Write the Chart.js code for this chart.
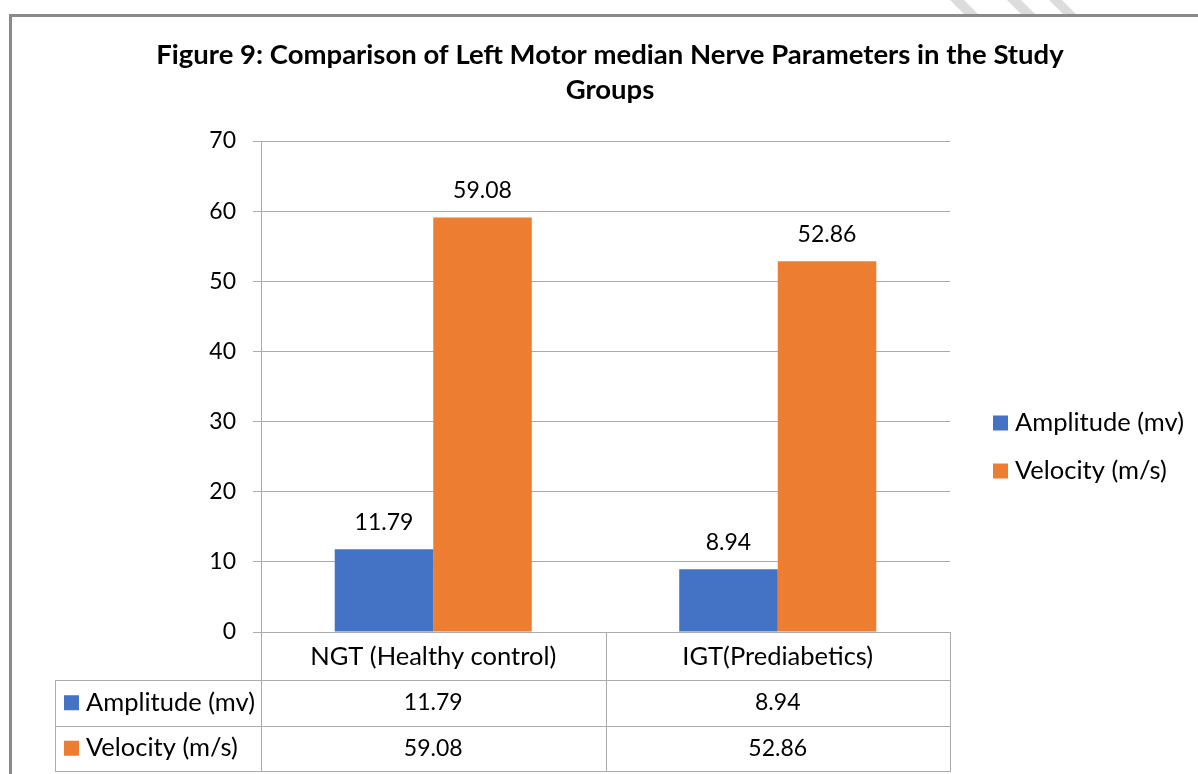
<!DOCTYPE html>
<html>
<head>
<meta charset="utf-8">
<script src="https://cdn.jsdelivr.net/npm/chart.js@4.4.1/dist/chart.umd.min.js"></script>
<style>
  html, body { margin: 0; padding: 0; background: #ffffff; }
  #wrap { width: 1198px; height: 774px; position: relative; }
</style>
</head>
<body>
<div id="wrap"><canvas id="chart" width="1198" height="774"></canvas></div>
<script>
// Study groups and measured parameters
const categories = ['NGT (Healthy control)', 'IGT(Prediabetics)'];
const seriesNames = ['Amplitude (mv)', 'Velocity (m/s)'];
const amplitude = [11.79, 8.94];
const velocity = [59.08, 52.86];
const titleLines = ['Figure 9: Comparison of Left Motor median Nerve Parameters in the Study', 'Groups'];
const yMin = 0, yMax = 70, yStep = 10;

const BLUE = '#4472C4';
const ORANGE = '#ED7D31';
const GRID = '#ababab';
const TEXT = '#000000';
const FONT = 'Lato, "Open Sans", sans-serif';
const TEXT_FONT = '25.5px ' + FONT;   // words
const NUM_FONT = '23px ' + FONT;      // numbers

// Frame, title, value labels, legend and the data table under the axis
const decorations = {
  id: 'decorations',
  afterDraw(chart) {
    const ctx = chart.ctx;
    const area = chart.chartArea;
    const x = chart.scales.x;
    ctx.save();

    // faint diagonal strokes above the frame
    ctx.fillStyle = '#dcdcdc';
    [[950, 964], [1007, 1021], [1049, 1062]].forEach(([a, b]) => {
      ctx.beginPath();
      ctx.moveTo(a, 0); ctx.lineTo(b, 0); ctx.lineTo(b + 14, 14); ctx.lineTo(a + 14, 14);
      ctx.closePath(); ctx.fill();
    });

    // outer frame
    ctx.strokeStyle = '#8a8a8a';
    ctx.lineWidth = 3;
    ctx.beginPath();
    ctx.moveTo(10.5, 780); ctx.lineTo(10.5, 15.5); ctx.lineTo(1200, 15.5);
    ctx.stroke();

    // title
    ctx.fillStyle = TEXT;
    ctx.textAlign = 'center';
    ctx.textBaseline = 'middle';
    ctx.font = 'bold 27.5px ' + FONT;
    ctx.fillText(titleLines[0], 610, 55);
    ctx.fillText(titleLines[1], 610, 90);

    // value labels above bars
    ctx.font = NUM_FONT;
    chart.data.datasets.forEach((ds, di) => {
      chart.getDatasetMeta(di).data.forEach((bar, i) => {
        ctx.fillText(ds.data[i].toFixed(2), bar.x, bar.y - 27);
      });
    });

    // legend on the right
    ctx.font = TEXT_FONT;
    ctx.textAlign = 'left';
    chart.data.datasets.forEach((ds, di) => {
      const cy = 423 + di * 48;
      ctx.fillStyle = ds.backgroundColor;
      ctx.fillRect(993, cy - 7.5, 15, 15);
      ctx.fillStyle = TEXT;
      ctx.fillText(ds.label, 1015, cy);
    });

    // data table
    const left = area.left, right = area.right, base = area.bottom;
    const tableLeft = 55, rowH = 45.5, headH = 48;
    const bounds = [left];
    for (let i = 0; i < categories.length - 1; i++) {
      bounds.push((x.getPixelForValue(i) + x.getPixelForValue(i + 1)) / 2);
    }
    bounds.push(right);
    const bottom = base + headH + rowH * chart.data.datasets.length;

    ctx.strokeStyle = GRID;
    ctx.lineWidth = 1;
    ctx.beginPath();
    bounds.forEach(bx => {
      const px = Math.round(bx) + 0.5;
      ctx.moveTo(px, base); ctx.lineTo(px, bottom);
    });
    for (let r = 0; r <= chart.data.datasets.length; r++) {
      const py = Math.round(base + headH + r * rowH) + 0.5;
      ctx.moveTo(tableLeft, py); ctx.lineTo(Math.round(right) + 1, py);
    }
    ctx.moveTo(tableLeft + 0.5, Math.round(base + headH)); ctx.lineTo(tableLeft + 0.5, Math.round(bottom) + 1);
    ctx.stroke();

    // category headers
    ctx.fillStyle = TEXT;
    ctx.textAlign = 'center';
    ctx.font = TEXT_FONT;
    categories.forEach((c, i) => {
      ctx.fillText(c, x.getPixelForValue(i), base + headH / 2 + 1);
    });

    // rows: legend key, series name, values
    chart.data.datasets.forEach((ds, di) => {
      const cy = base + headH + rowH * di + rowH / 2;
      ctx.fillStyle = ds.backgroundColor;
      ctx.fillRect(64, cy - 7.5, 15, 15);
      ctx.fillStyle = TEXT;
      ctx.textAlign = 'left';
      ctx.font = TEXT_FONT;
      ctx.fillText(ds.label, 86, cy);
      ctx.textAlign = 'center';
      ctx.font = NUM_FONT;
      ds.data.forEach((v, i) => {
        ctx.fillText(v.toFixed(2), x.getPixelForValue(i), cy);
      });
    });

    ctx.restore();
  }
};

new Chart(document.getElementById('chart'), {
  type: 'bar',
  data: {
    labels: categories,
    datasets: [
      { label: seriesNames[0], data: amplitude, backgroundColor: BLUE },
      { label: seriesNames[1], data: velocity, backgroundColor: ORANGE }
    ]
  },
  options: {
    responsive: false,
    animation: false,
    devicePixelRatio: 1,
    layout: { padding: { top: 141, right: 248, bottom: 142, left: 0 } },
    datasets: { bar: { categoryPercentage: 0.572, barPercentage: 1.0 } },
    plugins: {
      legend: { display: false },
      title: { display: false },
      tooltip: { enabled: false }
    },
    scales: {
      x: {
        grid: { display: false },
        border: { display: false },
        ticks: { display: false },
        afterFit(s) { s.height = 0; }
      },
      y: {
        min: yMin, max: yMax,
        ticks: { stepSize: yStep, padding: 17, color: TEXT, font: { family: FONT, size: 23 } },
        grid: { color: GRID, lineWidth: 1, tickLength: 8 },
        border: { color: GRID, width: 1 },
        afterFit(s) { s.width = 261; }
      }
    }
  },
  plugins: [decorations]
});
</script>
</body>
</html>
